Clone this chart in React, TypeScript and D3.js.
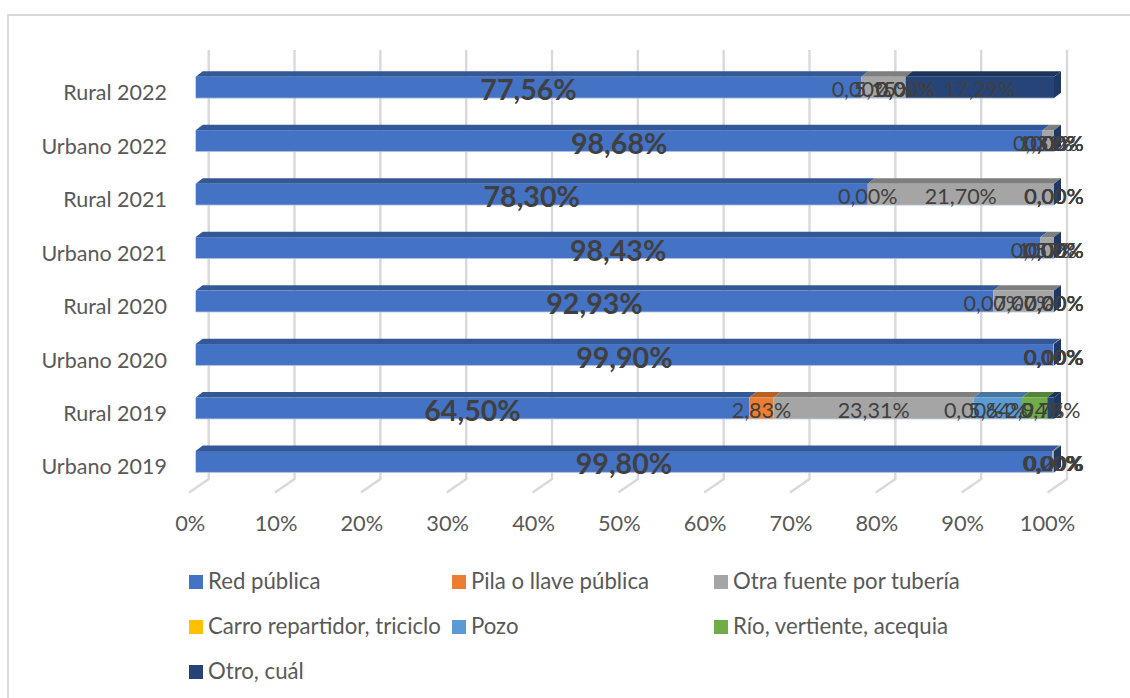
import React from "react";
import * as d3 from "d3";

const categories = ["Rural 2022", "Urbano 2022", "Rural 2021", "Urbano 2021", "Rural 2020", "Urbano 2020", "Rural 2019", "Urbano 2019"];
const seriesNames = ["Red pública", "Pila o llave pública", "Otra fuente por tubería", "Carro repartidor, triciclo", "Pozo", "Río, vertiente, acequia", "Otro, cuál"];
const redPublica = [77.56, 98.68, 78.3, 98.43, 92.93, 99.9, 64.5, 99.8];
const pila = [0, 0, 0, 0, 0, 0, 2.83, 0];
const otraFuente = [5.15, 1.32, 21.7, 1.57, 7.07, 0.1, 23.31, 0.2];
const carro = [0, 0, 0, 0, 0, 0, 0, 0];
const pozo = [0, 0, 0, 0, 0, 0, 5.64, 0];
const rio = [0, 0, 0, 0, 0, 0, 2.94, 0];
const otro = [17.29, 0, 0, 0, 0, 0, 0.78, 0];
const seriesValues = [redPublica, pila, otraFuente, carro, pozo, rio, otro];
const colors = ["#4472c4", "#ed7d31", "#a5a5a5", "#ffc000", "#5b9bd5", "#70ad47", "#264478"];
const xTicks = [0, 10, 20, 30, 40, 50, 60, 70, 80, 90, 100];

const FONT = "Lato, Carlito, Calibri, sans-serif";
const DX = 7;
const DY = 5.4;

const fmt = (v: number) => v.toFixed(2).replace(".", ",") + "%";

export default function App() {
  const x = d3.scaleLinear().domain([0, 100]).range([195.7, 1054]);
  const yTop = (c: string) => 76.7 + categories.indexOf(c) * 53.47;
  const barH = 21.4;

  const rows = categories.map((c, i) => {
    const stack = d3.stack<number>()
      .keys(seriesNames.map((_, s) => s) as any)
      .value((_: any, k: any) => seriesValues[k][i])([0]);
    return { c, segs: stack.map((l, s) => ({ s, a: l[0][0], b: l[0][1] })) };
  });

  const legendCols = [189, 452, 714];
  const legendRows = [582, 627, 672];

  return (
    <svg width={1130} height={698} style={{ position: "absolute", left: 0, top: 0, background: "#fff" }} fontFamily={FONT}>
      <rect x={8} y={15} width={1200} height={750} fill="#fff" stroke="#d9d9d9" strokeWidth={2} />

      {xTicks.map((t) => {
        const px = x(t);
        return (
          <g key={t} stroke="#d9d9d9" strokeWidth={2.4} fill="none">
            <path d={`M${px + 13},50V479L${px - 6.5},492.5`} />
          </g>
        );
      })}

      {xTicks.map((t) => (
        <text key={t} x={x(t) - 5.5 + (t === 100 ? -1 : 0)} y={531} fontSize={21.8} fill="#595959" textAnchor="middle">
          {t}%
        </text>
      ))}

      {categories.map((c) => (
        <text key={c} x={167} y={yTop(c) + 23.5} fontSize={21.5} fill="#595959" textAnchor="end">
          {c}
        </text>
      ))}

      {rows.map(({ c, segs }) => {
        const t = yTop(c);
        return (
          <g key={c}>
            {segs.filter((d) => d.b > d.a).map((d) => {
              const xa = x(d.a);
              const xb = x(d.b);
              const col = d3.color(colors[d.s])!;
              return (
                <g key={d.s}>
                  <path d={`M${xa},${t}L${xa + DX},${t - DY}H${xb + DX}L${xb},${t}Z`} fill={col.darker(0.75).toString()} />
                  <rect x={xa} y={t} width={xb - xa} height={barH} fill={colors[d.s]} />
                </g>
              );
            })}
            <path
              d={`M${x(100)},${t}L${x(100) + DX},${t - DY}V${t + barH - DY}L${x(100)},${t + barH}Z`}
              fill={d3.color(colors[6])!.darker(0.5).toString()}
            />
            <path d={`M${x(0)},${t + barH}H${x(100)}`} stroke="#b4c2dc" strokeWidth={1} fill="none" opacity={0.8} />
          </g>
        );
      })}

      {rows.map(({ c, segs }) => {
        const t = yTop(c);
        return segs.map((d) => {
          const big = d.s === 0;
          return (
            <text
              key={c + d.s}
              x={x((d.a + d.b) / 2)}
              y={t + (big ? 23.5 : 20.5)}
              fontSize={big ? 28.6 : 21.5}
              fontWeight={big ? 700 : 400}
              fill="#404040"
              textAnchor="middle"
            >
              {fmt(d.b - d.a)}
            </text>
          );
        });
      })}

      {seriesNames.map((n, i) => {
        const lx = legendCols[i % 3];
        const ly = legendRows[Math.floor(i / 3)];
        return (
          <g key={n}>
            <rect x={lx} y={ly - 7} width={14} height={14} fill={colors[i]} />
            <text x={lx + 19} y={ly + 6.5} fontSize={22.2} fill="#595959">
              {n}
            </text>
          </g>
        );
      })}
    </svg>
  );
}
